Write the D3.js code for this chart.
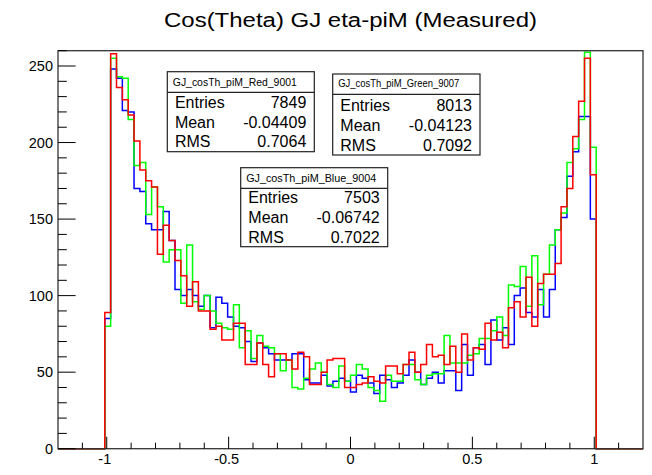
<!DOCTYPE html>
<html><head><meta charset="utf-8">
<script src="https://cdn.jsdelivr.net/npm/d3@7/dist/d3.min.js"></script>
<style>
body{margin:0;background:#fff}
svg{display:block}
text{font-family:"Liberation Sans",Arial,Helvetica,sans-serif;fill:#000}
</style>
</head><body>
<svg id="chart" width="652" height="475"></svg>
<script>
// ---- data ----
const xLow = -1.2, xHigh = 1.2, nBins = 100, firstFilledBin = 8;
const red = [89,258,236,228,218,201,
  182,175,171,127,146,136,123,113,
  93,109,90,90,78,80,71,71,82,82,
  55,55,69,55,47,62,62,58,52,63,
  60,42,42,50,58,59,59,40,40,42,
  43,47,44,43,54,54,49,55,63,50,55,68,60,61,55,67,
  50,75,58,66,65,82,71,76,66,92,
  96,86,112,80,108,114,114,121,158,170,
  204,227,255,179];
const green = [80,255,243,242,215,185,
  187,153,171,158,122,130,130,95,
  133,96,91,100,90,82,79,78,94,66,
  77,59,74,67,66,62,51,58,40,39,
  46,52,56,50,42,40,54,44,48,55,
  52,40,38,31,48,44,44,55,55,45,42,48,49,49,74,56,
  56,56,61,62,72,72,77,86,74,107,
  106,119,93,126,94,114,133,143,154,187,
  196,215,259,197];
const blue = [85,248,242,221,220,170,
  168,147,143,143,155,136,104,100,
  104,100,93,100,79,99,95,86,80,79,
  70,57,69,66,62,58,58,58,62,62,
  45,43,43,48,41,44,46,44,37,48,
  46,43,36,48,45,40,43,48,58,50,42,46,50,43,51,51,
  38,68,48,66,68,55,84,71,79,68,
  100,105,89,86,104,86,104,143,151,178,
  194,217,217,150];
const seriesNames = ["GJ_cosTh_piM_Blue_9004","GJ_cosTh_piM_Green_9007","GJ_cosTh_piM_Red_9001"];
const seriesColors = ["#0000ff","#00ff00","#ff0000"];
const statEntries = ["7503","8013","7849"];
const statMeans = ["-0.06742","-0.04123","-0.04409"];
const statRMS = ["0.7022","0.7092","0.7064"];
const yTicks = [0,50,100,150,200,250];
const xTicks = [-1,-0.5,0,0.5,1];
const xTickLabels = ["-1","-0.5","0","0.5","1"];
const titleText = "Cos(Theta) GJ eta-piM (Measured)";

// ---- layout ----
const svg = d3.select("#chart");
const L = 58, R = 643, T = 50.7, B = 448.7;
const x = d3.scaleLinear().domain([xLow, xHigh]).range([L, R]);
const y = d3.scaleLinear().domain([0, 260]).range([B, T]);
const binW = (xHigh - xLow) / nBins;

// title
svg.append("text").attr("x", 350.5).attr("y", 26.5).attr("text-anchor","middle")
  .attr("font-size", 19.5).attr("textLength", 373).attr("lengthAdjust","spacingAndGlyphs")
  .text(titleText);

// histograms
function histPoints(vals){
  const pts = [[xLow, 0]];
  for (let k = 0; k < nBins; k++){
    const i = k - firstFilledBin;
    const v = (i >= 0 && i < vals.length) ? vals[i] : 0;
    const e0 = xLow + k*binW, e1 = xLow + (k+1)*binW;
    pts.push([e0, v], [e1, v]);
  }
  pts.push([xHigh, 0]);
  return pts;
}
const line = d3.line().x(d => x(d[0])).y(d => y(d[1]));
[blue, green, red].forEach((vals, si) => {
  svg.append("path").attr("d", line(histPoints(vals)))
    .attr("fill","none").attr("stroke", seriesColors[si]).attr("stroke-width", 1.5)
    .attr("stroke-linejoin","miter");
});

// frame
svg.append("rect").attr("x", L).attr("y", T).attr("width", R-L).attr("height", B-T)
  .attr("fill","none").attr("stroke","#333").attr("stroke-width",1.3);

// y axis ticks (inside)
const yMinor = d3.range(0, 261, 10);
yMinor.forEach(v => {
  const major = v % 50 === 0;
  svg.append("line").attr("x1", L).attr("x2", L + (major ? 17.6 : 8.8))
    .attr("y1", y(v)).attr("y2", y(v)).attr("stroke","#000").attr("stroke-width",1);
});
yTicks.forEach(v => {
  svg.append("text").attr("x", 53).attr("y", y(v)).attr("dy","0.36em")
    .attr("text-anchor","end").attr("font-size",14.5).text(v);
});
// x axis ticks (inside)
const xMinor = d3.range(-11, 12).map(k => k/10);
xMinor.forEach(v => {
  const major = Math.abs(v*2 - Math.round(v*2)) < 1e-9;
  svg.append("line").attr("x1", x(v)).attr("x2", x(v))
    .attr("y1", B).attr("y2", B - (major ? 12 : 6))
    .attr("stroke","#000").attr("stroke-width",1);
});
xTicks.forEach((v,i) => {
  svg.append("text").attr("x", x(v) - (v<0?2:0)).attr("y", 464)
    .attr("text-anchor","middle").attr("font-size",14.5).text(xTickLabels[i]);
});

// stat boxes
const boxes = [
  {bx:240.7, by:167.7, bw:147, bh:79, sep:188.3, tb:181.7, tw:130, rows:[202.7,223.3,243.3]},
  {bx:332.7, by:74, bw:147.3, bh:81, sep:94.3, tb:87.3, tw:121, rows:[110.7,131,150.7]},
  {bx:167.3, by:71.7, bw:147, bh:80, sep:92.3, tb:86, tw:124, rows:[107.7,128.3,147.3]}
];
boxes.forEach((b, i) => {
  const g = svg.append("g");
  g.append("rect").attr("x", b.bx).attr("y", b.by).attr("width", b.bw).attr("height", b.bh)
    .attr("fill","#fff").attr("stroke","#222").attr("stroke-width",1.2);
  g.append("line").attr("x1", b.bx).attr("x2", b.bx + b.bw).attr("y1", b.sep).attr("y2", b.sep)
    .attr("stroke","#222").attr("stroke-width",1.2);
  g.append("text").attr("x", b.bx + 5.5).attr("y", b.tb).attr("font-size", 10.5)
    .attr("textLength", b.tw).attr("lengthAdjust","spacingAndGlyphs").text(seriesNames[i]);
  const labels = ["Entries","Mean","RMS"];
  const vals = [statEntries[i], statMeans[i], statRMS[i]];
  labels.forEach((lab, r) => {
    g.append("text").attr("x", b.bx + 7.6).attr("y", b.rows[r]).attr("font-size",16).text(lab);
    g.append("text").attr("x", b.bx + b.bw - 8).attr("y", b.rows[r]).attr("font-size",16)
      .attr("text-anchor","end").text(vals[r]);
  });
});
</script>
</body></html>
